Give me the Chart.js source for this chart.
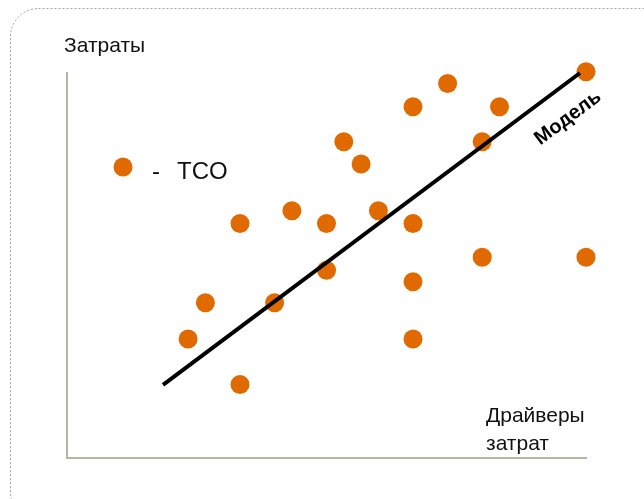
<!DOCTYPE html>
<html>
<head>
<meta charset="utf-8">
<style>
  html, body { margin: 0; padding: 0; background: #ffffff; }
  #wrap { width: 644px; height: 499px; position: relative; }
  canvas { display: block; }
</style>
<script src="https://cdn.jsdelivr.net/npm/chart.js@4.4.1/dist/chart.umd.min.js"></script>
</head>
<body>
<div id="wrap"><canvas id="c" width="644" height="499"></canvas></div>
<script>
// ---- data (arbitrary units) ----
const tcoX = [10, 13, 15, 16, 17, 18, 20, 22, 25, 24, 30, 20, 15, 20, 24, 30, 8, 12, 7, 20, 10];
const tcoY = [20.1, 21.2, 20.1, 27.1, 25.2, 21.2, 30.1, 32.1, 30.1, 27.1, 33.1, 20.1, 16.1, 15.1, 17.2, 17.2, 13.3, 13.3, 10.2, 10.2, 6.3];
const modelX = [5.55, 29.65];
const modelY = [6.26, 33.0];
const xRange = [0, 30];
const yRange = [0, 33];

const labelY = 'Затраты';
const labelX = ['Драйверы', 'затрат'];
const legendText = 'TCO';
const modelLabel = 'Модель';

const ORANGE = '#E06A00';
const AXIS = '#b9b4a2';

const tcoPoints = tcoX.map((x, i) => ({ x: x, y: tcoY[i] }));
const modelPoints = modelX.map((x, i) => ({ x: x, y: modelY[i] }));

const decor = {
  id: 'decor',
  beforeDraw(chart) {
    const ctx = chart.ctx;
    ctx.save();
    ctx.fillStyle = '#ffffff';
    ctx.fillRect(0, 0, chart.width, chart.height);
    // dashed rounded frame
    ctx.strokeStyle = '#a0a0a0';
    ctx.lineWidth = 1;
    ctx.setLineDash([2, 2]);
    ctx.beginPath();
    ctx.roundRect(10.5, 8.5, 660, 512, 28);
    ctx.stroke();
    ctx.restore();
  },
  afterDraw(chart) {
    const ctx = chart.ctx;
    ctx.save();
    ctx.fillStyle = '#111111';
    ctx.textBaseline = 'alphabetic';
    ctx.font = '21px "Liberation Sans", Arial, sans-serif';
    ctx.fillText(labelY, 64, 52);
    ctx.fillText(labelX[0], 486, 422);
    ctx.fillText(labelX[1], 486, 450);
    // legend
    ctx.fillStyle = ORANGE;
    ctx.beginPath();
    ctx.arc(123, 167, 9.5, 0, Math.PI * 2);
    ctx.fill();
    ctx.fillStyle = '#111111';
    ctx.font = '24px "Liberation Sans", Arial, sans-serif';
    ctx.fillText('-', 152, 179);
    ctx.fillText(legendText, 177, 179);
    // model label along the line
    const xs = chart.scales.x, ys = chart.scales.y;
    const ang = Math.atan2(ys.getPixelForValue(modelY[1]) - ys.getPixelForValue(modelY[0]),
                           xs.getPixelForValue(modelX[1]) - xs.getPixelForValue(modelX[0]));
    ctx.translate(568, 118);
    ctx.rotate(ang);
    ctx.fillStyle = '#000000';
    ctx.font = 'bold 20px "Liberation Sans", Arial, sans-serif';
    ctx.textAlign = 'center';
    ctx.textBaseline = 'middle';
    ctx.fillText(modelLabel, 0, 0);
    ctx.restore();
  }
};

new Chart(document.getElementById('c'), {
  type: 'scatter',
  data: {
    datasets: [
      {
        type: 'line',
        data: modelPoints,
        borderColor: '#000000',
        borderWidth: 4,
        pointRadius: 0,
        fill: false,
        clip: false,
        order: 0
      },
      {
        data: tcoPoints,
        backgroundColor: ORANGE,
        borderColor: ORANGE,
        borderWidth: 0,
        pointRadius: 9.5,
        pointHoverRadius: 9.5,
        clip: false,
        order: 1
      }
    ]
  },
  plugins: [decor],
  options: {
    responsive: false,
    animation: false,
    events: [],
    layout: { padding: { left: 67, top: 73, right: 58, bottom: 41 } },
    plugins: { legend: { display: false }, tooltip: { enabled: false }, title: { display: false } },
    scales: {
      x: {
        type: 'linear', min: xRange[0], max: xRange[1],
        ticks: { display: false },
        grid: { display: false, drawTicks: false },
        border: { display: true, color: AXIS, width: 2 }
      },
      y: {
        type: 'linear', min: yRange[0], max: yRange[1],
        ticks: { display: false },
        grid: { display: false, drawTicks: false },
        border: { display: true, color: AXIS, width: 2 }
      }
    }
  }
});
</script>
</body>
</html>
